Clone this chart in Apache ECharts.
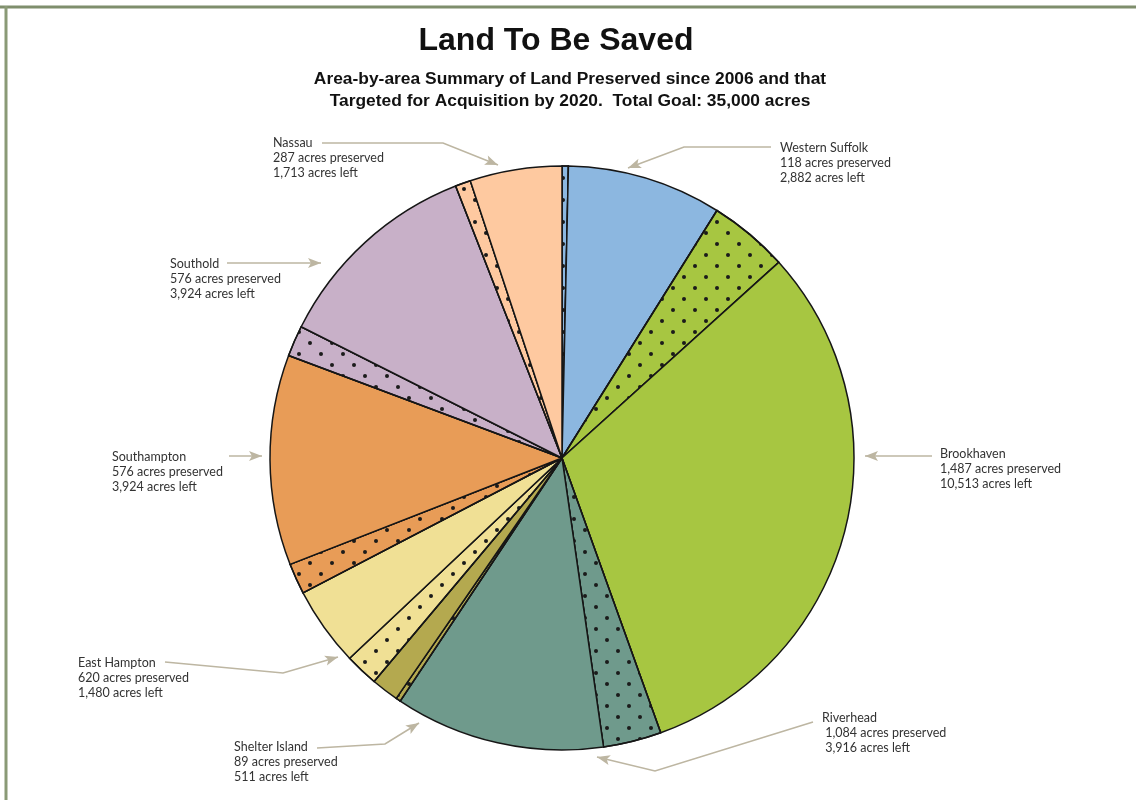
<!DOCTYPE html>
<html>
<head>
<meta charset="utf-8">
<title>Land To Be Saved</title>
<script src="https://cdn.jsdelivr.net/npm/echarts@6/dist/echarts.min.js"></script>
<style>
  html, body { margin: 0; padding: 0; background: #fff; }
  #main { width: 1136px; height: 800px; }
</style>
</head>
<body>
<div id="main"></div>
<script>
// 数据
var areas = ['Western Suffolk', 'Brookhaven', 'Riverhead', 'Shelter Island', 'East Hampton', 'Southampton', 'Southold', 'Nassau'];
var preserved = [118, 1487, 1084, 89, 620, 576, 576, 287];
var acresLeft = [2882, 10513, 3916, 511, 1480, 3924, 3924, 1713];
var colors = ['#8cb7e0', '#a7c641', '#6f9a8c', '#b4a94f', '#f0e095', '#e89c57', '#c8b0c8', '#fec9a0'];

// 标注位置 (文字左上 + 箭头折线)
var notes = [
    { x: 780, y: 140, indent: '', pts: [[771, 147], [684, 147], [628, 168]] },
    { x: 940, y: 446, indent: '', pts: [[932, 456], [865, 456]] },
    { x: 822, y: 710, indent: ' ', pts: [[813, 722], [655, 771], [597, 757]] },
    { x: 234, y: 739, indent: '', pts: [[317, 748], [385, 744], [419, 723]] },
    { x: 78, y: 655, indent: '', pts: [[165, 662], [283, 673], [338, 657]] },
    { x: 112, y: 449, indent: '', pts: [[229, 456], [262, 456]] },
    { x: 170, y: 256, indent: '', pts: [[227, 263], [321, 263]] },
    { x: 273, y: 135, indent: '', pts: [[322, 143], [443, 143], [498, 165]] }
];

function fmt(n) {
    return n.toString().replace(/\B(?=(\d{3})+(?!\d))/g, ',');
}

var dots = {
    symbol: 'circle',
    symbolSize: 1,
    color: '#1b1b1b',
    backgroundColor: null,
    dashArrayX: [[4, 18], [0, 11, 4, 7]],
    dashArrayY: [4, 7],
    rotation: 0
};

var pieData = [];
for (var i = 0; i < areas.length; i++) {
    pieData.push({
        name: areas[i] + ' preserved',
        value: preserved[i],
        itemStyle: { color: colors[i], decal: dots }
    });
    pieData.push({
        name: areas[i] + ' left',
        value: acresLeft[i],
        itemStyle: { color: colors[i] }
    });
}

var arrowColor = '#bdb6a2';
var graphics = [
    // 边框
    { type: 'line', shape: { x1: 0, y1: 7, x2: 1136, y2: 7 }, style: { stroke: '#7f8e6c', lineWidth: 3 } },
    { type: 'line', shape: { x1: 6, y1: 6, x2: 6, y2: 800 }, style: { stroke: '#8a9a76', lineWidth: 3 } },
    // 标题
    {
        type: 'text', x: 556, y: 25,
        style: { text: 'Land To Be Saved', font: 'bold 32px "Liberation Sans", Arial, sans-serif', fill: '#111', align: 'center', verticalAlign: 'top' }
    },
    {
        type: 'text', x: 570, y: 68,
        style: {
            text: 'Area-by-area Summary of Land Preserved since 2006 and that\nTargeted for Acquisition by 2020.  Total Goal: 35,000 acres',
            font: 'bold 17.4px "Liberation Sans", Arial, sans-serif', lineHeight: 22, fill: '#111', align: 'center', verticalAlign: 'top'
        }
    }
];

notes.forEach(function(n, i) {
    var p = n.pts;
    graphics.push({
        type: 'polyline',
        shape: { points: p },
        style: { stroke: arrowColor, lineWidth: 1.6, fill: null }
    });
    // 箭头
    var a = p[p.length - 2], b = p[p.length - 1];
    var ang = Math.atan2(b[1] - a[1], b[0] - a[0]);
    var len = 13, half = 5;
    var bx = b[0] - len * Math.cos(ang), by = b[1] - len * Math.sin(ang);
    graphics.push({
        type: 'polygon',
        shape: { points: [
            [b[0], b[1]],
            [bx + half * Math.sin(ang), by - half * Math.cos(ang)],
            [bx + 3 * Math.cos(ang), by + 3 * Math.sin(ang)],
            [bx - half * Math.sin(ang), by + half * Math.cos(ang)]
        ] },
        style: { fill: arrowColor }
    });
    graphics.push({
        type: 'text', x: n.x, y: n.y,
        style: {
            text: areas[i] + '\n' + n.indent + fmt(preserved[i]) + ' acres preserved\n' + n.indent + fmt(acresLeft[i]) + ' acres left',
            font: '12.5px Lato, "Noto Sans", sans-serif', lineHeight: 15, fill: '#333', verticalAlign: 'top'
        }
    });
});

var myChart = echarts.init(document.getElementById('main'));
var option = {
    backgroundColor: '#fff',
    animation: false,
    graphic: graphics,
    series: [
        {
            type: 'pie',
            center: [562, 458],
            radius: [0, 292],
            startAngle: 90,
            clockwise: true,
            silent: true,
            label: { show: false },
            labelLine: { show: false },
            itemStyle: { borderColor: '#161616', borderWidth: 1.5 },
            data: pieData
        }
    ]
};
myChart.setOption(option);
</script>
</body>
</html>
